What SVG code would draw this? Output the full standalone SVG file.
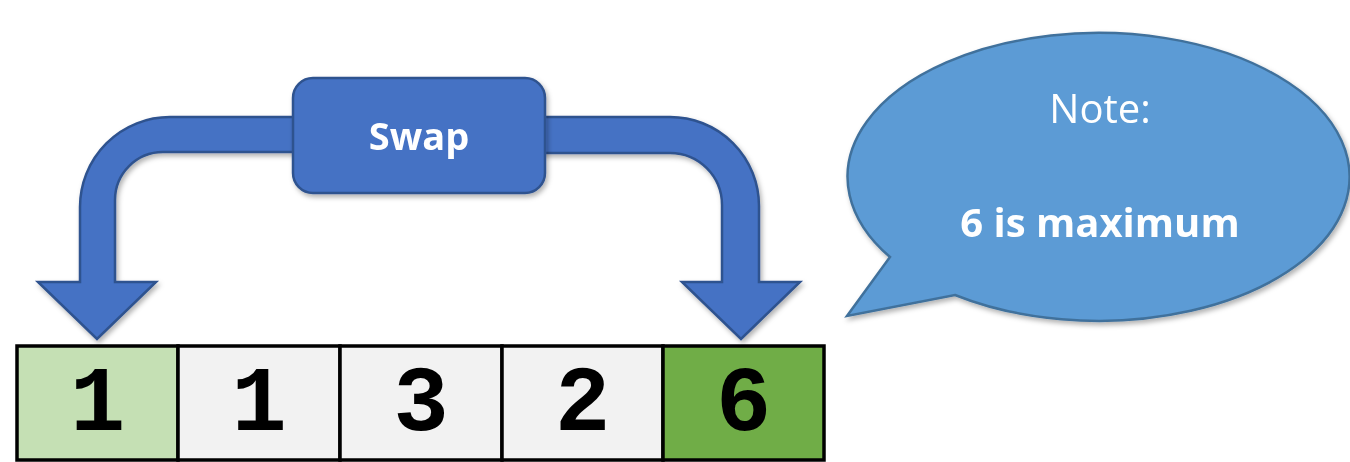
<svg xmlns="http://www.w3.org/2000/svg" width="1350" height="462" viewBox="0 0 1350 462">
<defs>
<filter id="sh" x="-10%" y="-10%" width="130%" height="130%">
<feDropShadow dx="2" dy="3" stdDeviation="2.5" flood-color="#000" flood-opacity="0.3"/>
</filter>
<style>
.arrow{fill:#4472C4;stroke:#2F528F;stroke-width:2.5;stroke-linejoin:miter}
.box{fill:#4472C4;stroke:#2F528F;stroke-width:2.5}
.bubble{fill:#5B9BD5;stroke:#41719C;stroke-width:2.5}
.cell{stroke:#000;stroke-width:3.5}
.digit{font-family:"Liberation Mono","Courier New",monospace;font-weight:bold;font-size:92px;fill:#000;text-anchor:middle}
.wt{font-family:"Open Sans","Noto Sans",sans-serif;fill:#fff;text-anchor:middle}
</style>
</defs>
<g id="connectors" filter="url(#sh)">
<path id="arrow-left" class="arrow" d="M 300,117 L 170,117 A 90,90 0 0 0 80,207 L 80,282 L 38,282 L 97,339 L 156,282 L 115,282 L 115,200 A 48,48 0 0 1 163,152 L 300,152 Z"/>
<path id="arrow-right" class="arrow" d="M 540,117 L 670,117 A 89,89 0 0 1 759,206 L 759,282 L 800,282 L 741,339 L 682,282 L 722,282 L 722,205 A 52,52 0 0 0 670,153 L 540,153 Z"/>
</g>
<g id="swap" filter="url(#sh)">
<rect class="box" x="293" y="78" width="252" height="115" rx="20" ry="20"/>
<text class="wt" x="419" y="150" font-size="38" font-weight="bold">Swap</text>
</g>
<g id="note" filter="url(#sh)">
<path class="bubble" d="M 890,257 A 251,144 0 1 1 955,295 L 847,316 Z"/>
<text class="wt" x="1100" y="123" font-size="40">Note:</text>
<text class="wt" x="1100" y="237" font-size="40" font-weight="bold">6 is maximum</text>
</g>
<g id="array">
<g id="cell0"><rect class="cell" x="17" y="346" width="161" height="114" fill="#C5E0B4"/><text class="digit" x="97.5" y="430">1</text></g>
<g id="cell1"><rect class="cell" x="178" y="346" width="162" height="114" fill="#F2F2F2"/><text class="digit" x="259" y="430">1</text></g>
<g id="cell2"><rect class="cell" x="340" y="346" width="162" height="114" fill="#F2F2F2"/><text class="digit" x="421" y="430">3</text></g>
<g id="cell3"><rect class="cell" x="502" y="346" width="161" height="114" fill="#F2F2F2"/><text class="digit" x="582.5" y="430">2</text></g>
<g id="cell4"><rect class="cell" x="663" y="346" width="161" height="114" fill="#70AD47"/><text class="digit" x="743.5" y="430">6</text></g>
</g>
</svg>
